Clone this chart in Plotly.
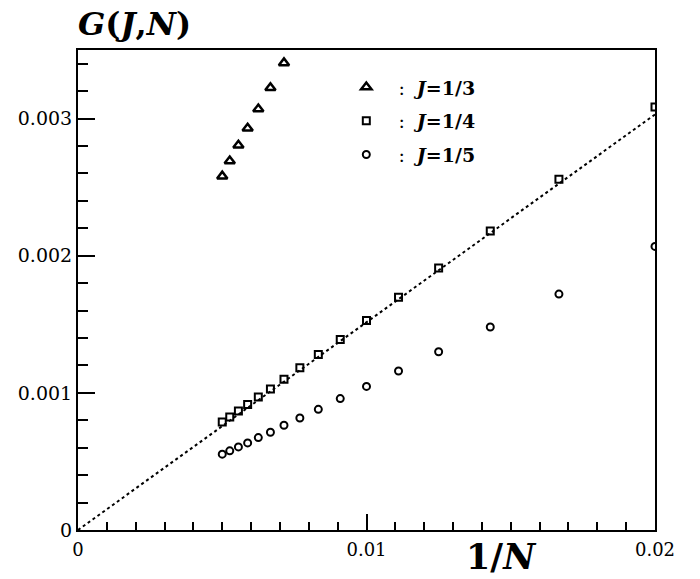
import plotly.graph_objects as go

# 1/N positions (N = 200, 190, ..., 100, 90, 80, 70, 60, 50)
x_all = [0.005, 0.00526, 0.00556, 0.00588, 0.00625, 0.00667, 0.00714,
         0.00769, 0.00833, 0.00909, 0.01, 0.01111, 0.0125, 0.01429,
         0.01667, 0.02]

# J = 1/3 (first 7 points)
x_j3 = [0.005, 0.00526, 0.00556, 0.00588, 0.00625, 0.00667, 0.00714]
g_j3 = [0.00258, 0.00269, 0.002805, 0.002929, 0.003069, 0.003224, 0.003406]

# J = 1/4
g_j4 = [0.000788, 0.000824, 0.000868, 0.000916, 0.000969, 0.001028,
        0.0011, 0.001183, 0.00128, 0.001389, 0.001527, 0.001697,
        0.00191, 0.00218, 0.002558, 0.003084]

# J = 1/5
g_j5 = [0.000553, 0.000577, 0.000606, 0.000635, 0.000674, 0.000713,
        0.000764, 0.000817, 0.00088, 0.000958, 0.001047, 0.001159,
        0.0013, 0.00148, 0.00172, 0.002068]

# dotted fit line endpoints
fit_x = [0.0, 0.02]
fit_y = [0.0, 0.00303]

x_ticks = [0, 0.01, 0.02]
x_ticklabels = ["0", "0.01", "0.02"]
y_ticks = [0, 0.001, 0.002, 0.003]
y_ticklabels = ["0", "0.001", "0.002", "0.003"]

FONT = "DejaVu Serif"
NB = "\u00a0"

fig = go.Figure()
fig.add_trace(go.Scatter(x=fit_x, y=fit_y, mode="lines",
                         line=dict(color="black", width=2, dash="dot"),
                         showlegend=False, hoverinfo="skip"))
fig.add_trace(go.Scatter(x=x_j3, y=g_j3, mode="markers",
                         name=NB * 2 + ":" + NB * 2 + "<b><i>J</i>=1/3</b>", legendgroup="a",
                         marker=dict(symbol="triangle-up-open", size=9,
                                     color="black", line=dict(width=2.5, color="black"))))
fig.add_trace(go.Scatter(x=x_all, y=g_j4, mode="markers",
                         name=NB * 2 + ":" + NB * 2 + "<b><i>J</i>=1/4</b>", legendgroup="b",
                         marker=dict(symbol="square-open", size=7,
                                     color="black", line=dict(width=2, color="black"))))
fig.add_trace(go.Scatter(x=x_all, y=g_j5, mode="markers",
                         name=NB * 2 + ":" + NB * 2 + "<b><i>J</i>=1/5</b>", legendgroup="c",
                         marker=dict(symbol="circle-open", size=7,
                                     color="black", line=dict(width=2, color="black"))))

fig.update_layout(
    width=700, height=579,
    margin=dict(l=78, r=45, t=50, b=49, autoexpand=False),
    paper_bgcolor="white", plot_bgcolor="white",
    font=dict(family=FONT, color="black"),
    legend=dict(x=0.465, y=0.962, xanchor="left", yanchor="top",
                font=dict(family=FONT, size=19, color="black"),
                bgcolor="rgba(0,0,0,0)", tracegroupgap=6),
    xaxis=dict(range=[0, 0.02], tickvals=x_ticks, ticktext=x_ticklabels,
               ticks="inside", ticklen=16, tickwidth=2, tickcolor="black",
               minor=dict(dtick=0.001, ticks="inside", ticklen=8, tickwidth=2,
                          tickcolor="black", showgrid=False),
               showline=True, linewidth=2, linecolor="black", mirror=True,
               showgrid=False, zeroline=False, ticklabelstandoff=2,
               tickfont=dict(family=FONT, size=18, color="black")),
    yaxis=dict(range=[0, 0.0035], tickvals=y_ticks, ticktext=y_ticklabels,
               ticks="inside", ticklen=17, tickwidth=2, tickcolor="black",
               minor=dict(dtick=0.0002, ticks="inside", ticklen=10, tickwidth=2,
                          tickcolor="black", showgrid=False),
               showline=True, linewidth=2, linecolor="black", mirror=True,
               showgrid=False, zeroline=False, ticklabelstandoff=0,
               tickfont=dict(family=FONT, size=19, color="black")),
)

fig.add_annotation(text="<b><i>G</i>(<i>J</i>,<i>N</i>)</b>", xref="paper", yref="paper",
                   x=(134 - 78) / 577, y=(530 - 24) / 480, xanchor="center", yanchor="middle",
                   showarrow=False, font=dict(family=FONT, size=32, color="black"))
fig.add_annotation(text="<b>1/<i>N</i></b>", xref="paper", yref="paper",
                   x=(501 - 78) / 577, y=(530 - 556) / 480, xanchor="center", yanchor="middle",
                   showarrow=False, font=dict(family=FONT, size=35, color="black"))

fig.write_html("out.html", config={"displayModeBar": False},
               post_script="document.body.style.margin='0';document.body.style.overflow='hidden';")
